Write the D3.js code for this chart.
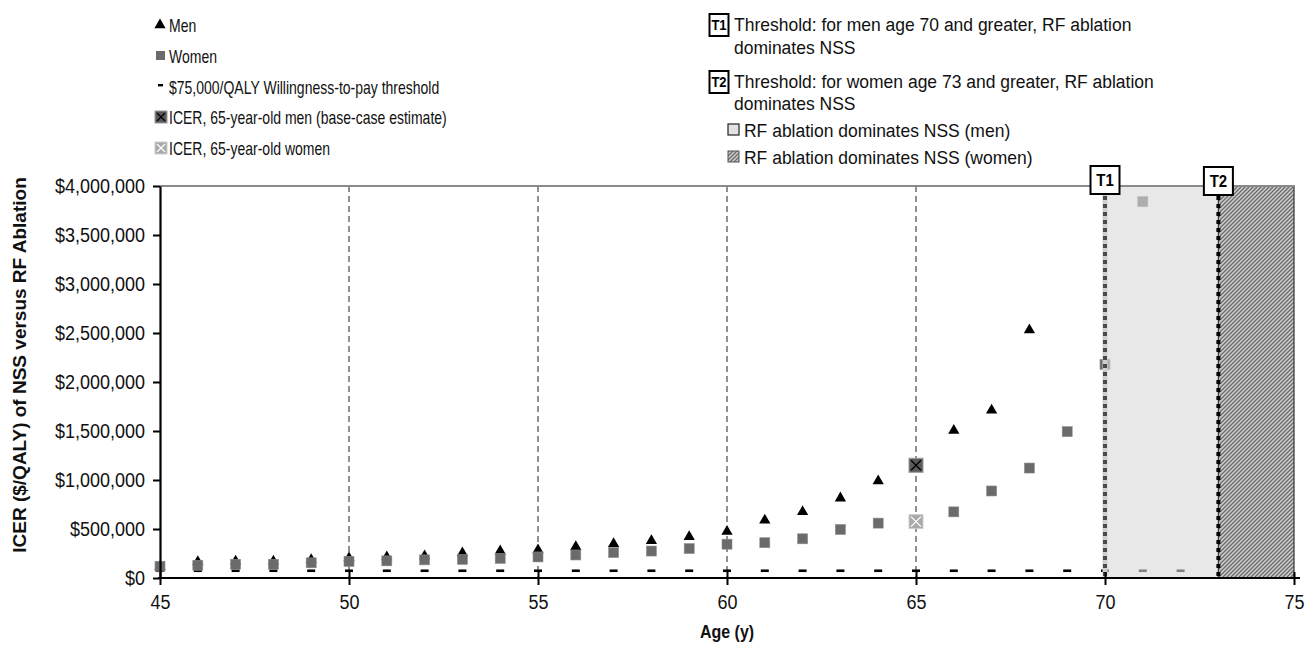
<!DOCTYPE html>
<html><head><meta charset="utf-8">
<script src="https://cdn.jsdelivr.net/npm/d3@7"></script>
<style>body{margin:0;background:#fff}svg{display:block;font-family:"Liberation Sans",Arial,sans-serif}</style>
</head><body><svg id="c" width="1315" height="649"></svg>
<script>
const menAges = [45,46,47,48,49,50,51,52,53,54,55,56,57,58,59,60,61,62,63,64,65,66,67,68];
const menValues = [115000,165000,170000,170000,185000,205000,215000,225000,255000,275000,285000,320000,350000,380000,420000,475000,590000,675000,815000,990000,1150000,1505000,1711000,2530000];
const womenAges = [45,46,47,48,49,50,51,52,53,54,55,56,57,58,59,60,61,62,63,64,65,66,67,68,69,70,71];
const womenValues = [120000,130000,140000,140000,155000,170000,175000,185000,190000,200000,215000,235000,260000,275000,300000,345000,360000,400000,495000,560000,575000,675000,888000,1122000,1493000,2180000,3840000];
const wtpAges = [45,46,47,48,49,50,51,52,53,54,55,56,57,58,59,60,61,62,63,64,65,66,67,68,69,70,71,72];
const wtpValue = 75000;
const icerMen = {age:65, value:1150000};
const icerWomen = {age:65, value:575000};
const refAges = [50,55,60,65];
const thresholdMen = 70, thresholdWomen = 73;
const xTicks = [45,50,55,60,65,70,75];
const yTicks = [0,500000,1000000,1500000,2000000,2500000,3000000,3500000,4000000];
const leftLegend = ["Men","Women","$75,000/QALY Willingness-to-pay threshold","ICER, 65-year-old men (base-case estimate)","ICER, 65-year-old women"];
const rightLegend = [
  {key:"T1", lines:["Threshold: for men age 70 and greater, RF ablation","dominates NSS"]},
  {key:"T2", lines:["Threshold: for women age 73 and greater, RF ablation","dominates NSS"]}
];
const regionLegend = ["RF ablation dominates NSS (men)","RF ablation dominates NSS (women)"];

const svg = d3.select("#c");
const x = d3.scaleLinear().domain([45,75]).range([160,1294]);
const y = d3.scaleLinear().domain([0,4000000]).range([578,186]);
const defs = svg.append("defs");
const pat = defs.append("pattern").attr("id","hatch").attr("width",4).attr("height",4).attr("patternUnits","userSpaceOnUse");
pat.append("rect").attr("width",4).attr("height",4).attr("fill","#cfcfcf");
pat.append("path").attr("d","M-1,1 l2,-2 M0,4 l4,-4 M3,5 l2,-2").attr("stroke","#6a6a6a").attr("stroke-width",1.3);

function stext(parent, tx, ty, str, opts){
  const gg = parent.append("g").attr("transform",`translate(${tx},${ty}) scale(${opts.sx||1},${opts.sy||1.15})`);
  const t = gg.append("text").attr("font-size",opts.fs).attr("fill",opts.fill||"#111").text(str);
  if(opts.fw) t.attr("font-weight",opts.fw);
  if(opts.anchor) t.attr("text-anchor",opts.anchor);
  return t;
}

const g = svg.append("g");
g.selectAll(".ref").data(refAges).join("line")
 .attr("x1",d=>x(d)).attr("x2",d=>x(d)).attr("y1",y(4000000)).attr("y2",y(0))
 .attr("stroke","#222").attr("stroke-width",1).attr("stroke-dasharray","6,4");
g.selectAll(".wtp").data(wtpAges).join("rect")
 .attr("x",d=>x(d)-4).attr("y",y(wtpValue)-1.2).attr("width",8).attr("height",2.6).attr("fill","#000");
const tri = d3.symbol().type(d3.symbolTriangle).size(55);
g.selectAll(".men").data(menAges.map((a,i)=>({a,v:menValues[i]}))).join("path")
 .attr("d",tri).attr("transform",d=>`translate(${x(d.a)},${y(d.v)})`).attr("fill","#000");
g.selectAll(".women").data(womenAges.map((a,i)=>({a,v:womenValues[i]}))).join("rect")
 .attr("x",d=>x(d.a)-5).attr("y",d=>y(d.v)-5).attr("width",10).attr("height",10)
 .attr("fill","#6b6b6b").attr("stroke","#8d8d8d").attr("stroke-width",0.6);
function icer(sel, cx, cy, fill, stroke, xcol, s){
  sel.append("rect").attr("x",cx-s/2).attr("y",cy-s/2).attr("width",s).attr("height",s).attr("fill",fill).attr("stroke",stroke).attr("stroke-width",1);
  const k=s/2-2;
  sel.append("path").attr("d",`M${cx-k},${cy-k}L${cx+k},${cy+k}M${cx-k},${cy+k}L${cx+k},${cy-k}`).attr("stroke",xcol).attr("stroke-width",1.3);
}
icer(g, x(icerMen.age), y(icerMen.value), "#5a5a5a","#9a9a9a","#000",14);
icer(g, x(icerWomen.age), y(icerWomen.value), "#a9a9a9","#cfcfcf","#fff",14);
g.append("rect").attr("x",x(thresholdMen)).attr("y",y(4000000)).attr("width",x(thresholdWomen)-x(thresholdMen)).attr("height",y(0)-y(4000000))
 .attr("fill","#d8d8d8").attr("opacity",0.6);
g.append("rect").attr("x",x(thresholdWomen)).attr("y",y(4000000)).attr("width",x(75)-x(thresholdWomen)).attr("height",y(0)-y(4000000))
 .attr("fill","url(#hatch)").attr("stroke","#333").attr("stroke-width",1.2);
g.append("line").attr("x1",x(thresholdMen)).attr("x2",x(thresholdMen)).attr("y1",y(4000000)).attr("y2",y(0))
 .attr("stroke","#cfcfcf").attr("stroke-width",5);
g.append("line").attr("x1",x(thresholdMen)).attr("x2",x(thresholdMen)).attr("y1",y(4000000)+2).attr("y2",y(0))
 .attr("stroke","#4a4a4a").attr("stroke-width",4).attr("stroke-dasharray","4,4");
g.append("line").attr("x1",x(thresholdWomen)).attr("x2",x(thresholdWomen)).attr("y1",y(4000000)+2).attr("y2",y(0))
 .attr("stroke","#000").attr("stroke-width",4).attr("stroke-dasharray","4,4");
g.append("line").attr("x1",x(45)).attr("x2",x(75)).attr("y1",y(4000000)).attr("y2",y(4000000)).attr("stroke","#8a8a8a").attr("stroke-width",2);

const yAxis = g.append("g").attr("transform",`translate(${x(45)},0)`).call(d3.axisLeft(y).tickValues(yTicks).tickSize(7).tickSizeOuter(0).tickFormat(d=>"$"+d3.format(",")(d)));
yAxis.select(".domain").attr("stroke","#000").attr("stroke-width",2.2);
yAxis.selectAll(".tick line").attr("stroke","#000").attr("stroke-width",2);
yAxis.selectAll(".tick text").attr("font-size",18).attr("fill","#111").attr("x",-15).attr("dy","0.34em")
 .attr("transform","scale(1,1.12)").attr("font-family","Liberation Sans, Arial, sans-serif");
const xAxis = g.append("g").attr("transform",`translate(0,${y(0)})`).call(d3.axisBottom(x).tickValues(xTicks).tickSize(7).tickSizeOuter(0).tickFormat(d3.format("d")));
xAxis.select(".domain").remove();
xAxis.append("line").attr("x1",x(45)-2).attr("x2",x(75)+6).attr("y1",0).attr("y2",0).attr("stroke","#000").attr("stroke-width",2.2);
xAxis.selectAll(".tick line").attr("y1",-6).attr("y2",7).attr("stroke","#000").attr("stroke-width",2);
xAxis.selectAll(".tick text").attr("font-size",18).attr("fill","#111").attr("y",15).attr("transform","scale(1,1.12)")
 .attr("font-family","Liberation Sans, Arial, sans-serif");

stext(svg, 727, 638, "Age (y)", {fs:16, fw:"bold", anchor:"middle", sy:1.15});
svg.append("text").attr("transform","translate(26,365) rotate(-90)").attr("text-anchor","middle").attr("font-weight","bold").attr("font-size",19).attr("fill","#111").text("ICER ($/QALY) of NSS versus RF Ablation");

function tbox(sel, cx, cy, w, h, label, fs){
  sel.append("rect").attr("x",cx-w/2).attr("y",cy-h/2).attr("width",w).attr("height",h).attr("fill","#fff").attr("stroke","#000").attr("stroke-width",2);
  stext(sel, cx, cy+fs*0.4, label, {fs:fs, fw:"bold", anchor:"middle", fill:"#000", sy:1.1});
}
tbox(svg, x(thresholdMen), 180, 29, 28, "T1", 15);
tbox(svg, x(thresholdWomen), 181, 29, 28, "T2", 15);

const lg = svg.append("g");
const ly = [25,56,87,117,148];
lg.append("path").attr("d",tri).attr("transform",`translate(160,${ly[0]})`).attr("fill","#000");
lg.append("rect").attr("x",156).attr("y",ly[1]-5).attr("width",9).attr("height",9).attr("fill","#6b6b6b");
lg.append("rect").attr("x",158).attr("y",ly[2]-3).attr("width",5).attr("height",2.4).attr("fill","#000");
icer(lg, 161, ly[3], "#5a5a5a","#9a9a9a","#000",12);
icer(lg, 161, ly[4], "#a9a9a9","#cfcfcf","#fff",12);
leftLegend.forEach((d,i)=>stext(lg, 169, ly[i]+7, d, {fs:17.5, sx:0.8, sy:1.1}));

const rg = svg.append("g");
const rly = [[24,47],[81,103]];
rightLegend.forEach((d,i)=>{
  tbox(rg, 719, rly[i][0]+1, 19, 22, d.key, 13);
  d.lines.forEach((t,j)=>stext(rg, 734, rly[i][j]+7, t, {fs:17.5, sy:1.1}));
});
const rgy = [130,157];
rg.append("rect").attr("x",728).attr("y",rgy[0]-6).attr("width",11).attr("height",11).attr("fill","#e3e3e3").attr("stroke","#222").attr("stroke-width",1.2);
rg.append("rect").attr("x",728).attr("y",rgy[1]-6).attr("width",11).attr("height",11).attr("fill","url(#hatch)").attr("stroke","#555").attr("stroke-width",1);
regionLegend.forEach((t,i)=>stext(rg, 744, rgy[i]+7, t, {fs:17.5, sy:1.1}));
</script></body></html>
